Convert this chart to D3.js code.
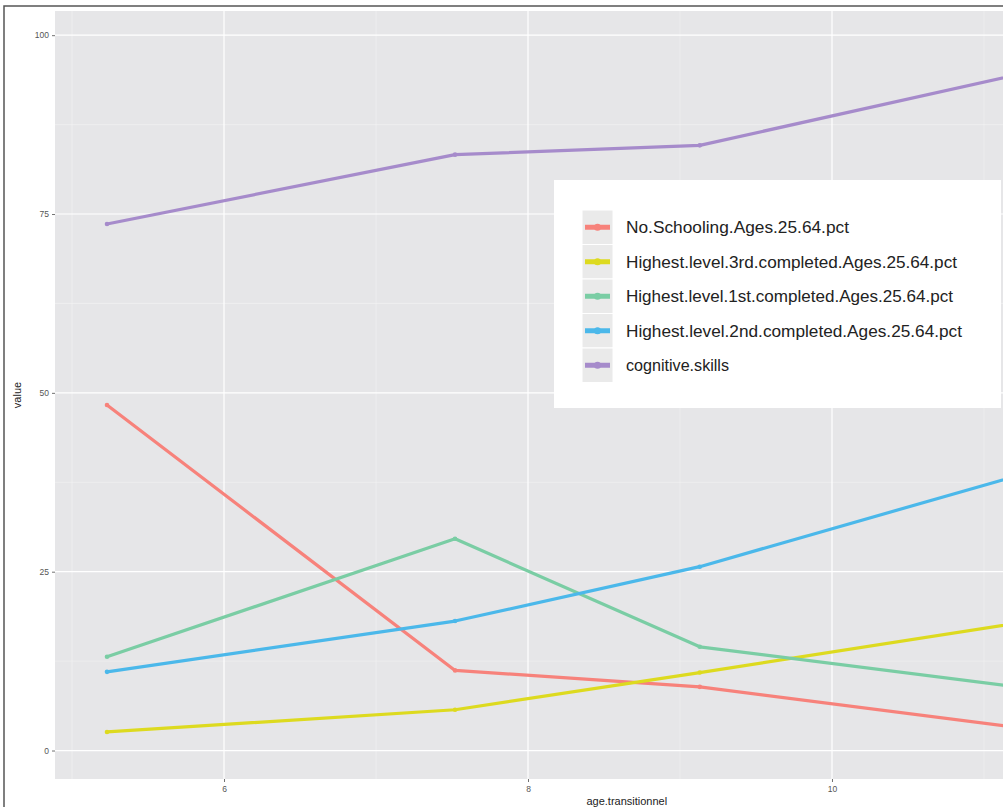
<!DOCTYPE html>
<html>
<head>
<meta charset="utf-8">
<script src="https://cdn.jsdelivr.net/npm/d3@7"></script>
<style>
  html, body { margin: 0; padding: 0; background: #ffffff; overflow: hidden; }
  svg { display: block; }
</style>
</head>
<body>
<svg id="chart" width="1003" height="807"></svg>
<script>
// ---- data ----
const ages = [5.23, 7.52, 9.13, 12.07];
const noSchooling = [48.3, 11.2, 8.9, 0.9];
const highest3rd = [2.6, 5.7, 10.9, 20.6];
const highest1st = [13.1, 29.6, 14.5, 6.6];
const highest2nd = [11.0, 18.1, 25.7, 43.6];
const cognitive = [73.6, 83.3, 84.6, 98.5];
const seriesNames = [
  "No.Schooling.Ages.25.64.pct",
  "Highest.level.3rd.completed.Ages.25.64.pct",
  "Highest.level.1st.completed.Ages.25.64.pct",
  "Highest.level.2nd.completed.Ages.25.64.pct",
  "cognitive.skills"
];
const seriesValues = [noSchooling, highest3rd, highest1st, highest2nd, cognitive];
const seriesColors = ["#F7827B", "#DDDA1F", "#7ACDA4", "#4BB8EA", "#A68BCB"];
const xTicks = [6, 8, 10];
const xMinor = [5, 7, 9, 11];
const yTicks = [0, 25, 50, 75, 100];
const yMinor = [12.5, 37.5, 62.5, 87.5];
const xTitle = "age.transitionnel";
const yTitle = "value";

// ---- layout ----
const svg = d3.select("#chart");
const panel = { left: 55, top: 11, right: 1198.6, bottom: 779 };

// outer frame
svg.append("rect").attr("x", 4).attr("y", 6).attr("width", 1200).attr("height", 900)
  .attr("fill", "#ffffff").attr("stroke", "#555555").attr("stroke-width", 1.5);

// scales with ggplot-like 5% expansion
const xExt = d3.extent(ages);
const xPad = (xExt[1] - xExt[0]) * 0.05;
const allVals = seriesValues.flat();
const yExt = d3.extent(allVals);
const yPad = (yExt[1] - yExt[0]) * 0.05;
const x = d3.scaleLinear().domain([xExt[0] - xPad, xExt[1] + xPad]).range([panel.left, panel.right]);
const y = d3.scaleLinear().domain([yExt[0] - yPad, yExt[1] + yPad]).range([panel.bottom, panel.top]);

// panel background
svg.append("rect").attr("x", panel.left).attr("y", panel.top)
  .attr("width", panel.right - panel.left).attr("height", panel.bottom - panel.top)
  .attr("fill", "#E6E6E8");

const grid = svg.append("g");
grid.selectAll(".xmin").data(xMinor).join("line")
  .attr("x1", d => x(d)).attr("x2", d => x(d)).attr("y1", panel.top).attr("y2", panel.bottom)
  .attr("stroke", "#F3F3F3").attr("stroke-width", 0.6);
grid.selectAll(".ymin").data(yMinor).join("line")
  .attr("y1", d => y(d)).attr("y2", d => y(d)).attr("x1", panel.left).attr("x2", panel.right)
  .attr("stroke", "#F3F3F3").attr("stroke-width", 0.6);
grid.selectAll(".xmaj").data(xTicks).join("line")
  .attr("x1", d => x(d)).attr("x2", d => x(d)).attr("y1", panel.top).attr("y2", panel.bottom)
  .attr("stroke", "#FFFFFF").attr("stroke-width", 1.2);
grid.selectAll(".ymaj").data(yTicks).join("line")
  .attr("y1", d => y(d)).attr("y2", d => y(d)).attr("x1", panel.left).attr("x2", panel.right)
  .attr("stroke", "#FFFFFF").attr("stroke-width", 1.2);

// axes
const xAxis = svg.append("g").attr("transform", `translate(0,${panel.bottom})`)
  .call(d3.axisBottom(x).tickValues(xTicks).tickSize(3).tickPadding(4).tickFormat(d3.format("d")));
const yAxis = svg.append("g").attr("transform", `translate(${panel.left},0)`)
  .call(d3.axisLeft(y).tickValues(yTicks).tickSize(3).tickPadding(3).tickFormat(d3.format("d")));
[xAxis, yAxis].forEach(a => {
  a.select(".domain").remove();
  a.selectAll(".tick line").attr("stroke", "#4d4d4d").attr("stroke-width", 0.8);
  a.selectAll(".tick text").attr("fill", "#555555").attr("font-size", 8.5)
    .attr("font-family", "Liberation Sans, Arial, sans-serif");
});

// axis titles
svg.append("text").attr("x", (panel.left + panel.right) / 2).attr("y", 805)
  .attr("text-anchor", "middle").attr("font-size", 11)
  .attr("font-family", "Liberation Sans, Arial, sans-serif").attr("fill", "#222")
  .text(xTitle);
svg.append("text").attr("transform", `translate(21,${(panel.top + panel.bottom) / 2}) rotate(-90)`)
  .attr("text-anchor", "middle").attr("font-size", 11)
  .attr("font-family", "Liberation Sans, Arial, sans-serif").attr("fill", "#222")
  .text(yTitle);

// lines
const line = d3.line().x(d => x(d[0])).y(d => y(d[1]));
const plot = svg.append("g");
seriesValues.forEach((vals, i) => {
  const pts = ages.map((a, j) => [a, vals[j]]);
  plot.append("path").datum(pts).attr("d", line)
    .attr("fill", "none").attr("stroke", seriesColors[i]).attr("stroke-width", 3.2)
    .attr("stroke-linejoin", "round");
  plot.selectAll(null).data(pts).join("circle")
    .attr("cx", d => x(d[0])).attr("cy", d => y(d[1])).attr("r", 2.3)
    .attr("fill", seriesColors[i]);
});

// legend
const lg = svg.append("g");
lg.append("rect").attr("x", 554).attr("y", 180).attr("width", 447).attr("height", 228).attr("fill", "#FFFFFF");
const rowH = 34.5, keyX = 582, keyW = 31, keyTop = 210;
const legendTextWidths = [223, 331, 327, 336, 103];
seriesNames.forEach((name, i) => {
  const top = keyTop + i * rowH;
  const cy = top + rowH / 2;
  lg.append("rect").attr("x", keyX).attr("y", top).attr("width", keyW).attr("height", rowH)
    .attr("fill", "#EAEAEA").attr("stroke", "#FFFFFF").attr("stroke-width", 1);
  lg.append("line").attr("x1", keyX + 3).attr("x2", keyX + keyW - 3).attr("y1", cy).attr("y2", cy)
    .attr("stroke", seriesColors[i]).attr("stroke-width", 5);
  lg.append("circle").attr("cx", keyX + keyW / 2).attr("cy", cy).attr("r", 3.5).attr("fill", seriesColors[i]);
  lg.append("text").attr("x", 626).attr("y", cy + 6)
    .attr("font-size", 17).attr("font-family", "Liberation Sans, Arial, sans-serif")
    .attr("fill", "#222").attr("textLength", legendTextWidths[i]).attr("lengthAdjust", "spacingAndGlyphs")
    .text(name);
});
</script>
</body>
</html>
